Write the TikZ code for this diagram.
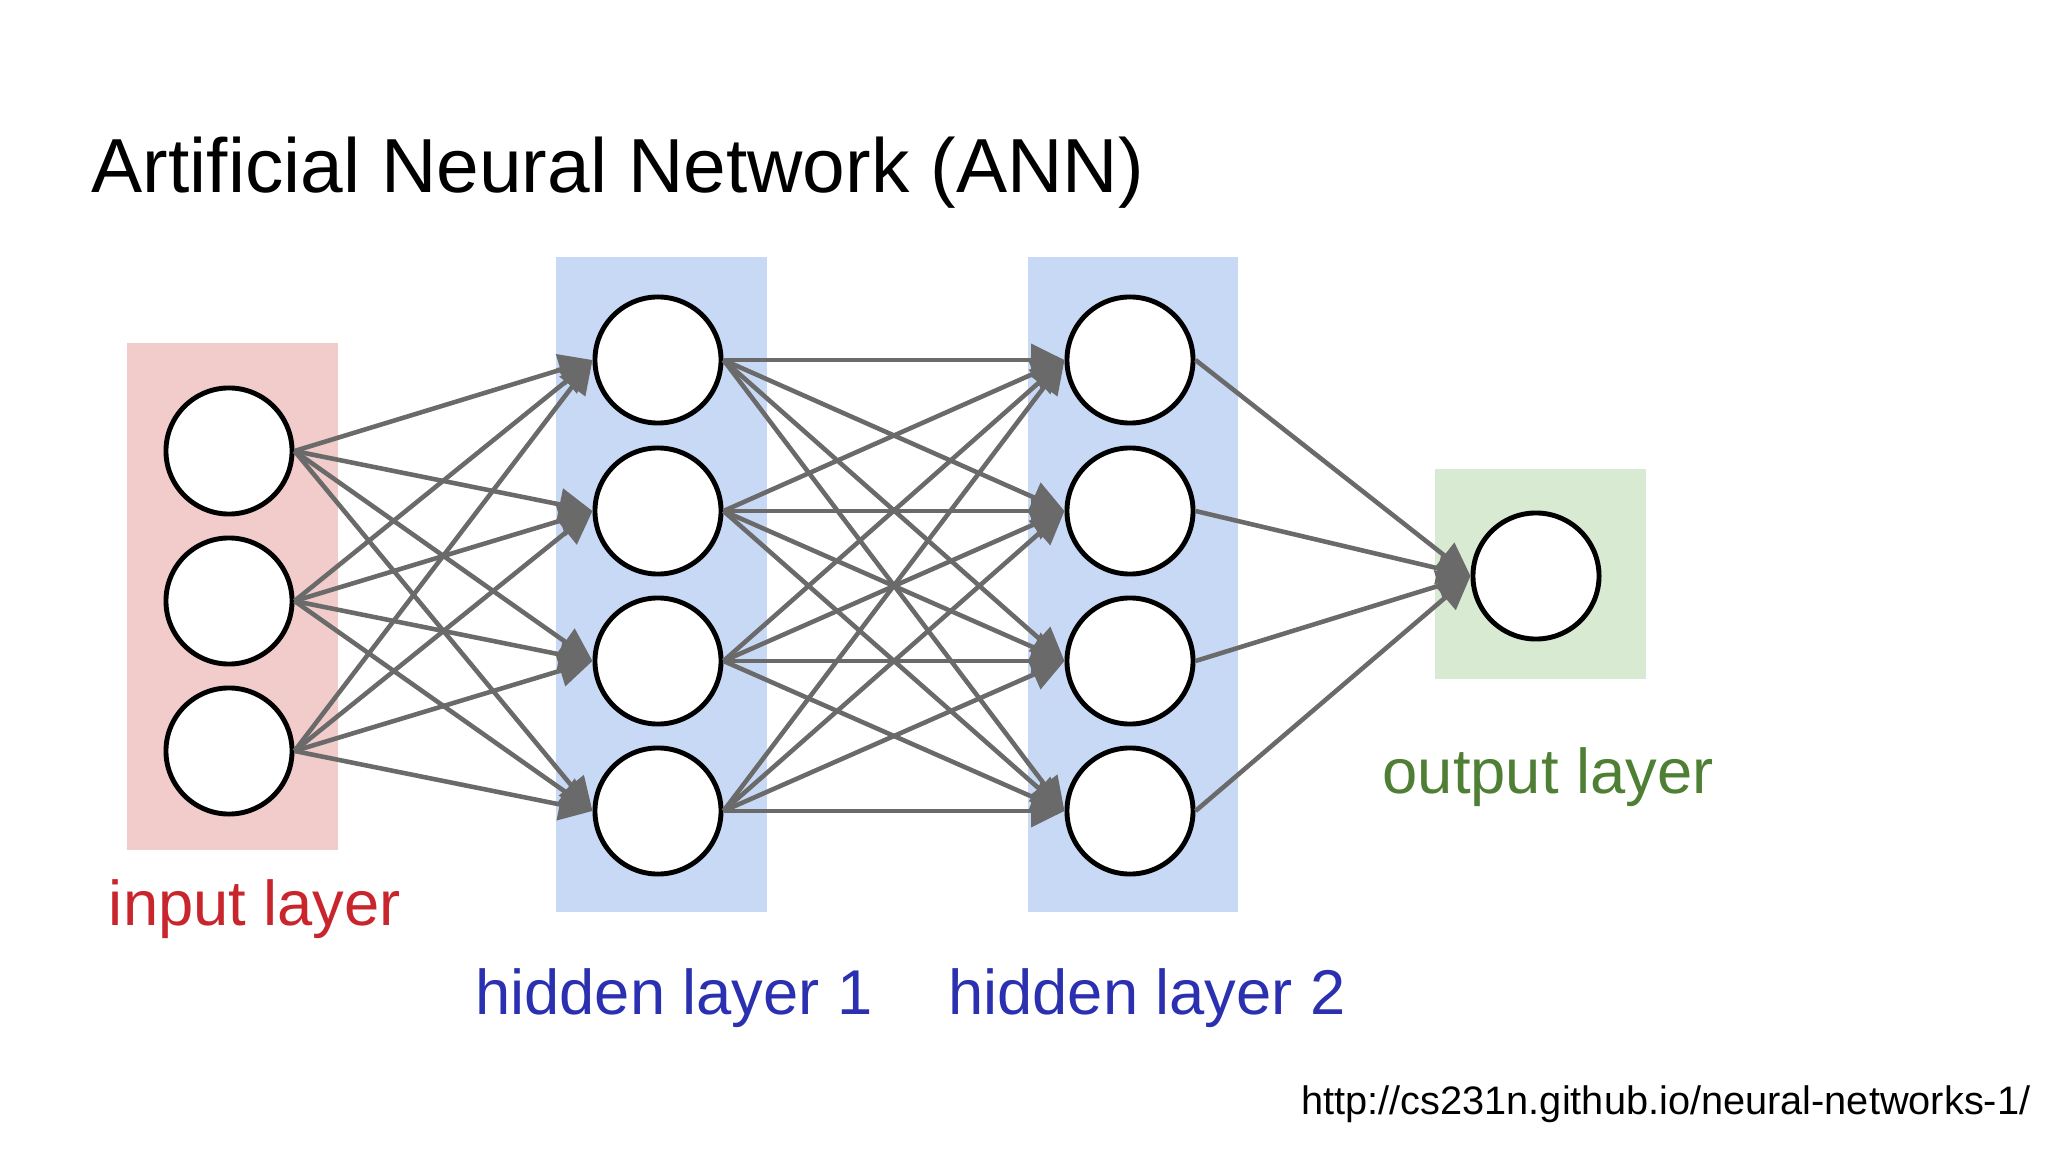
\documentclass[tikz,border=0pt]{standalone}
\usepackage{fontspec}
\setmainfont{Liberation Sans}
\usetikzlibrary{arrows.meta}
\definecolor{inputbg}{HTML}{F2CBCB}
\definecolor{hiddenbg}{HTML}{C7D9F5}
\definecolor{outputbg}{HTML}{D9EAD3}
\definecolor{inputtxt}{HTML}{C8262C}
\definecolor{hiddentxt}{HTML}{2B30B0}
\definecolor{outputtxt}{HTML}{4E7F34}
\definecolor{linkgray}{HTML}{6A6A6A}

\begin{document}
\begin{tikzpicture}[
    x=0.01cm, y=-0.01cm,
    >={Triangle[length=9.5pt,width=9pt]},
    neuron/.style={draw, circle, line width=1.4pt, fill=white, minimum size=1.26cm, inner sep=0pt},
    link/.style={->, draw=linkgray, line width=1.3pt},
    layerlabel/.style={font=\fontsize{18}{20}\selectfont, inner sep=0pt}
  ]
  \useasboundingbox (0,0) rectangle (2048,1152);

  % title
  \node[anchor=base west, inner sep=0pt, font=\fontsize{21.8}{26}\selectfont] (title) at (91,193) {Artificial Neural Network (ANN)};

  % layer backgrounds
  \fill[inputbg]  (127,343)  rectangle (338,850);
  \fill[hiddenbg] (556,257)  rectangle (767,912);
  \fill[hiddenbg] (1028,257) rectangle (1238,912);
  \fill[outputbg] (1435,469) rectangle (1646,679);

  % neurons
  \foreach \i/\y in {1/451,2/601,3/751}
    \node[neuron] (I\i) at (229,\y) {};
  \foreach \i/\y in {1/360,2/511,3/661,4/811} {
    \node[neuron] (A\i) at (658,\y) {};
    \node[neuron] (B\i) at (1130,\y) {};
  }
  \node[neuron] (O) at (1536,576) {};

  % connections
  \foreach \i in {1,2,3}
    \foreach \j in {1,2,3,4}
      \draw[link] (I\i.east) -- (A\j.west);
  \foreach \i in {1,2,3,4}
    \foreach \j in {1,2,3,4}
      \draw[link] (A\i.east) -- (B\j.west);
  \foreach \i in {1,2,3,4}
    \draw[link] (B\i.east) -- (O.west);

  % labels
  \node[layerlabel, text=inputtxt]  (inlabel)  at (255,909)  {input layer};
  \node[layerlabel, text=hiddentxt] (h1label)  at (674,998)  {hidden layer 1};
  \node[layerlabel, text=hiddentxt] (h2label)  at (1147,998) {hidden layer 2};
  \node[layerlabel, text=outputtxt] (outlabel) at (1548,777) {output layer};

  % source
  \node[anchor=east, inner sep=0pt, font=\fontsize{11.3}{13}\selectfont] (source) at (2031,1104) {http://cs231n.github.io/neural-networks-1/};
\end{tikzpicture}
\end{document}
